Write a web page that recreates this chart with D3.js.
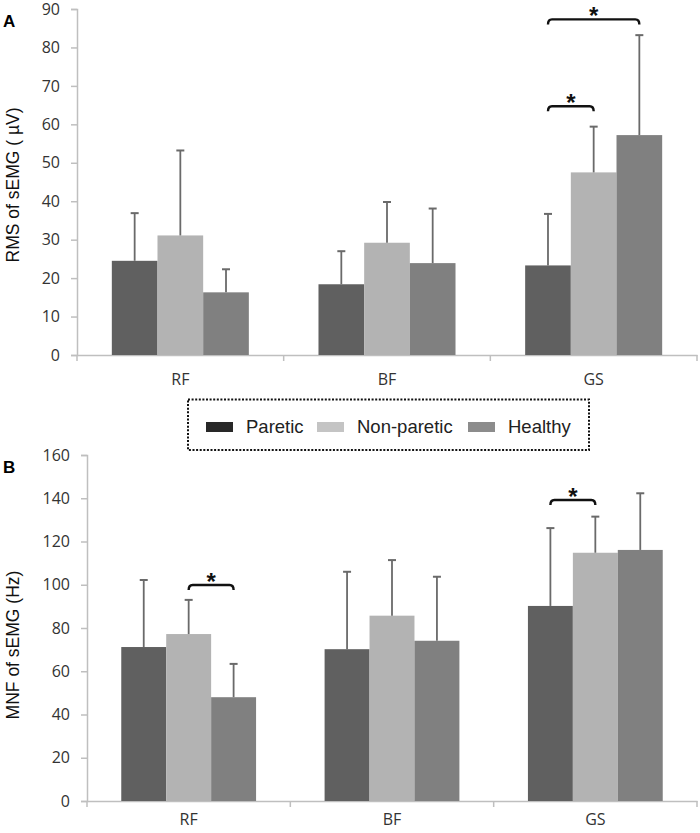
<!DOCTYPE html>
<html>
<head>
<meta charset="utf-8">
<script src="https://cdn.jsdelivr.net/npm/d3@7"></script>
<style>
  html, body { margin: 0; padding: 0; background: #fff; }
  svg { display: block; }
</style>
</head>
<body>
<svg id="chart" width="700" height="833"></svg>
<script>
// ---------- data ----------
const categories = ["RF", "BF", "GS"];
const seriesNames = ["Paretic", "Non-paretic", "Healthy"];

// Panel A: RMS of sEMG (µV)
const rmsParetic    = [24.5, 18.4, 23.3];
const rmsNonParetic = [31.1, 29.2, 47.5];
const rmsHealthy    = [16.3, 23.9, 57.2];
const rmsSdParetic    = [12.4, 8.6, 13.4];
const rmsSdNonParetic = [22.1, 10.6, 11.9];
const rmsSdHealthy    = [6.0, 14.2, 26.0];
const rmsTicks = [0, 10, 20, 30, 40, 50, 60, 70, 80, 90];

// Panel B: MNF of sEMG (Hz)
const mnfParetic    = [71.2, 70.2, 90.2];
const mnfNonParetic = [77.2, 85.7, 114.8];
const mnfHealthy    = [48.0, 74.1, 116.1];
const mnfSdParetic    = [31.0, 35.8, 36.0];
const mnfSdNonParetic = [15.8, 25.7, 16.7];
const mnfSdHealthy    = [15.4, 29.6, 26.2];
const mnfTicks = [0, 20, 40, 60, 80, 100, 120, 140, 160];

// significance brackets: category, from series, to series, level (data units)
const rmsBrackets = [
  { cat: "GS", from: 0, to: 1, level: 64.7 },
  { cat: "GS", from: 0, to: 2, level: 87.3 }
];
const mnfBrackets = [
  { cat: "RF", from: 1, to: 2, level: 99.9 },
  { cat: "GS", from: 0, to: 1, level: 139.2 }
];

// ---------- styles ----------
const barColors = ["#606060", "#b3b3b3", "#808080"];
const legendColors = ["#282828", "#c4c4c4", "#8c8c8c"];
const axisColor = "#bfbfbf";
const tickTextColor = "#333";
const tickFont = "'Open Sans', 'Liberation Sans', sans-serif";
const labelFont = "'Liberation Sans', Arial, sans-serif";

const svg = d3.select("#chart");

function drawPanel(cfg) {
  const g = svg.append("g");
  const x = d3.scaleBand().domain(categories).range([cfg.left, cfg.right]).paddingInner(0).paddingOuter(0);
  const y = d3.scaleLinear().domain([0, cfg.max]).range([cfg.bottom, cfg.top]);
  const barW = x.bandwidth() * 0.221;
  const groupW = barW * 3;
  const barX = (ci, si) => x(categories[ci]) + (x.bandwidth() - groupW) / 2 + si * barW;

  // y axis
  const yAxis = d3.axisLeft(y).tickValues(cfg.ticks).tickSize(6).tickPadding(11).tickFormat(d3.format("d"));
  const ya = g.append("g").attr("transform", `translate(${cfg.left},0)`).call(yAxis);
  ya.select(".domain").attr("stroke", axisColor).attr("stroke-width", 1.5);
  ya.selectAll(".tick line").attr("stroke", axisColor).attr("stroke-width", 1.5);
  ya.selectAll(".tick text").attr("fill", tickTextColor).style("font-family", tickFont).style("font-size", "16px");

  // x axis
  const xAxis = d3.axisBottom(x).tickSize(0).tickPadding(0).tickFormat("");
  const xa = g.append("g").attr("transform", `translate(0,${cfg.bottom})`).call(xAxis);
  xa.select(".domain").attr("stroke", axisColor).attr("stroke-width", 1.5);
  const bounds = categories.map(c => x(c)).concat([x(categories[categories.length - 1]) + x.bandwidth()]);
  xa.selectAll("line.bound").data(bounds).join("line").attr("class", "bound")
    .attr("x1", d => d).attr("x2", d => d).attr("y1", 0).attr("y2", 6)
    .attr("stroke", axisColor).attr("stroke-width", 1.5);
  xa.selectAll("text.cat").data(categories).join("text").attr("class", "cat")
    .attr("x", d => x(d) + x.bandwidth() / 2).attr("y", cfg.catDy)
    .attr("text-anchor", "middle").attr("fill", tickTextColor)
    .style("font-family", tickFont).style("font-size", "16px").text(d => d);

  // bars + error bars
  cfg.series.forEach((vals, si) => {
    const sds = cfg.sds[si];
    vals.forEach((v, ci) => {
      const bx = barX(ci, si);
      g.append("rect").attr("x", bx).attr("y", y(v)).attr("width", barW).attr("height", y(0) - y(v))
        .attr("fill", barColors[si]);
      const cx = bx + barW / 2;
      const top = y(v + sds[ci]);
      g.append("line").attr("x1", cx).attr("x2", cx).attr("y1", y(v)).attr("y2", top)
        .attr("stroke", "#6a6a6a").attr("stroke-width", 1.8);
      g.append("line").attr("x1", cx - 4).attr("x2", cx + 4).attr("y1", top).attr("y2", top)
        .attr("stroke", "#6a6a6a").attr("stroke-width", 2);
    });
  });

  // brackets
  cfg.brackets.forEach(b => {
    const ci = categories.indexOf(b.cat);
    const x1 = barX(ci, b.from) + barW / 2;
    const x2 = barX(ci, b.to) + barW / 2;
    const yy = y(b.level);
    g.append("path")
      .attr("d", `M${x1},${yy + 5} Q${x1},${yy} ${x1 + 4},${yy} L${x2 - 4},${yy} Q${x2},${yy} ${x2},${yy + 5}`)
      .attr("fill", "none").attr("stroke", "#111").attr("stroke-width", 2.4);
    g.append("text").attr("x", (x1 + x2) / 2).attr("y", yy + 5)
      .attr("text-anchor", "middle").attr("fill", "#111")
      .style("font-family", labelFont).style("font-weight", "bold").style("font-size", "24px").text("*");
  });

  // y title
  g.append("text")
    .attr("transform", `translate(${cfg.titleX},${(cfg.top + cfg.bottom) / 2 + cfg.titleDy}) rotate(-90)`)
    .attr("text-anchor", "middle").attr("fill", "#111")
    .style("font-family", labelFont).style("font-size", "17.5px").text(cfg.title);

  // panel letter
  g.append("text").attr("x", 3).attr("y", cfg.letterY).attr("fill", "#000")
    .style("font-family", labelFont).style("font-weight", "bold").style("font-size", "17px").text(cfg.letter);
}

drawPanel({
  left: 77, right: 697, top: 9, bottom: 355, max: 90, ticks: rmsTicks,
  series: [rmsParetic, rmsNonParetic, rmsHealthy],
  sds: [rmsSdParetic, rmsSdNonParetic, rmsSdHealthy],
  brackets: rmsBrackets, title: "RMS of sEMG ( \u00b5V)", titleX: 19, titleDy: 3, catDy: 30,
  letter: "A", letterY: 27
});

drawPanel({
  left: 87, right: 697, top: 455, bottom: 801, max: 160, ticks: mnfTicks,
  series: [mnfParetic, mnfNonParetic, mnfHealthy],
  sds: [mnfSdParetic, mnfSdNonParetic, mnfSdHealthy],
  brackets: mnfBrackets, title: "MNF of sEMG (Hz)", titleX: 19, titleDy: 17, catDy: 24,
  letter: "B", letterY: 473
});

// legend
const lg = svg.append("g");
lg.append("rect").attr("x", 188).attr("y", 399.5).attr("width", 401).attr("height", 50.5)
  .attr("fill", "none").attr("stroke", "#111").attr("stroke-width", 2).attr("stroke-dasharray", "2,1.6");
const legendSwatchX = [206, 317, 468];
seriesNames.forEach((n, i) => {
  lg.append("rect").attr("x", legendSwatchX[i]).attr("y", 422).attr("width", 27).attr("height", 10)
    .attr("fill", legendColors[i]);
  lg.append("text").attr("x", legendSwatchX[i] + 40).attr("y", 433).attr("fill", "#222")
    .style("font-family", labelFont).style("font-size", "18.5px").text(n);
});
</script>
</body>
</html>
